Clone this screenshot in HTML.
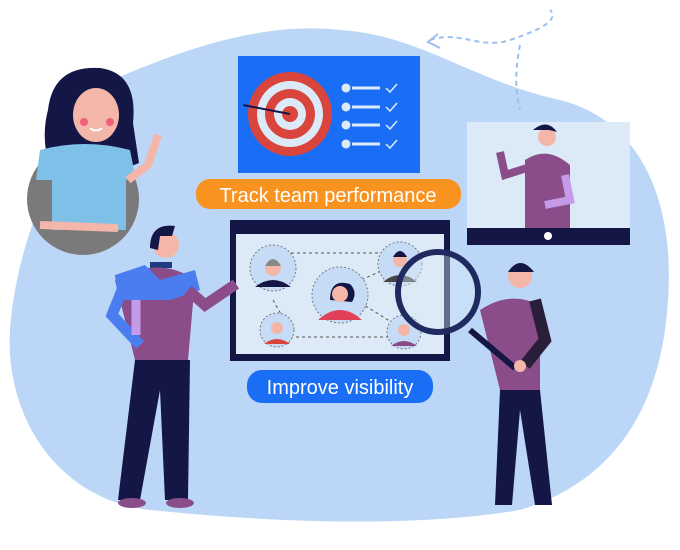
<!DOCTYPE html>
<html><head><style>body{margin:0;background:#fff}svg{display:block}</style></head><body>
<svg width="680" height="550" viewBox="0 0 680 550" xmlns="http://www.w3.org/2000/svg" font-family="Liberation Sans, sans-serif">
<path d="M100,85 C160,60 250,20 340,30 C420,35 470,80 560,100 C640,120 675,200 668,300 C662,400 620,480 520,510 C400,530 250,520 150,510 C60,500 5,420 10,330 C15,260 40,200 60,160 C70,130 80,100 100,85 Z" fill="#bcd6f7"/>
<path d="M430,40 C460,30 480,50 510,40 C540,30 560,20 550,10 M520,45 C515,70 515,90 520,110" stroke="#9cc0ec" stroke-width="2" stroke-dasharray="5,4" fill="none"/>
<path d="M438,34 L428,42 L440,48" stroke="#9cc0ec" stroke-width="2" fill="none"/>
<rect x="238" y="56" width="182" height="117" fill="#1a6ef5"/>
<circle cx="290" cy="114" r="42" fill="#d9453d"/><circle cx="290" cy="114" r="33" fill="#dceaf8"/><circle cx="290" cy="114" r="25" fill="#d9453d"/><circle cx="290" cy="114" r="16" fill="#dceaf8"/><circle cx="290" cy="114" r="8" fill="#d9453d"/>
<line x1="243" y1="105" x2="290" y2="114" stroke="#141646" stroke-width="2"/>
<g fill="#dceaf8" stroke="#dceaf8"><circle cx="346" cy="88" r="4"/><circle cx="346" cy="107" r="4"/><circle cx="346" cy="125" r="4"/><circle cx="346" cy="144" r="4"/>
<g stroke-width="3"><line x1="352" y1="88" x2="380" y2="88"/><line x1="352" y1="107" x2="380" y2="107"/><line x1="352" y1="125" x2="380" y2="125"/><line x1="352" y1="144" x2="380" y2="144"/></g>
<g fill="none" stroke-width="1.5"><path d="M386,88 l4,4 l7,-8"/><path d="M386,107 l4,4 l7,-8"/><path d="M386,125 l4,4 l7,-8"/><path d="M386,144 l4,4 l7,-8"/></g></g>
<rect x="196" y="179" width="265" height="30" rx="14" fill="#f7931e"/>
<text x="328" y="202" font-size="20" fill="#fff" text-anchor="middle">Track team performance</text>
<rect x="230" y="220" width="220" height="141" fill="#141646"/>
<rect x="236" y="234" width="208" height="120" fill="#dceaf8"/>
<g stroke="#555" stroke-dasharray="3,3" fill="none"><path d="M273,253 L400,253 M273,300 L290,330 M290,337 L404,337 M340,290 L400,262 M340,290 L404,330"/></g>
<g stroke="#777" stroke-dasharray="2,2" fill="#c6dcf6"><circle cx="273" cy="268" r="23"/><circle cx="340" cy="295" r="28"/><circle cx="400" cy="264" r="22"/><circle cx="277" cy="330" r="17"/><circle cx="404" cy="332" r="17"/></g>
<path d="M255,287 q18,-14 36,0z" fill="#141646"/><circle cx="273" cy="268" r="8" fill="#f4b6a8"/><path d="M265,266 q8,-14 16,0" fill="#888"/>
<path d="M318,320 q22,-20 44,0z" fill="#e0405a"/><path d="M330,300 q0,-22 20,-16 q8,8 2,18z" fill="#141646"/><circle cx="340" cy="294" r="8" fill="#f4b6a8"/>
<path d="M383,282 q17,-14 34,0z" fill="#444"/><circle cx="400" cy="260" r="7" fill="#f4b6a8"/><path d="M393,257 q7,-12 14,0z" fill="#141646"/>
<path d="M264,344 q13,-10 26,0z" fill="#d9453d"/><circle cx="277" cy="328" r="6" fill="#f4b6a8"/>
<path d="M391,346 q13,-10 26,0z" fill="#8a4d8a"/><circle cx="404" cy="330" r="6" fill="#f4b6a8"/>
<rect x="247" y="370" width="186" height="33" rx="15" fill="#1a6ef5"/>
<text x="340" y="394" font-size="20" fill="#fff" text-anchor="middle">Improve visibility</text>
<rect x="467" y="122" width="163" height="110" fill="#dceaf8"/>
<rect x="467" y="228" width="163" height="17" fill="#141646"/>
<circle cx="548" cy="236" r="4" fill="#fff"/>
<circle cx="547" cy="137" r="9" fill="#f4b6a8"/><path d="M533,130 q14,-12 24,2 l-8,-2z" fill="#141646"/>
<path d="M525,160 q22,-15 45,5 L570,228 L525,228 Z" fill="#8a4d8a"/>
<path d="M527,168 L505,175 L500,152" stroke="#8a4d8a" stroke-width="8" fill="none"/>
<path d="M565,175 L570,200 L545,205" stroke="#c49be8" stroke-width="8" fill="none"/>
<circle cx="83" cy="199" r="56" fill="#7a7a7a"/>
<path d="M48,110 q5,-45 52,-42 q38,5 33,55 l6,40 l-20,8 l-70,-5 q-8,-30 -1,-56z" fill="#141646"/>
<ellipse cx="96" cy="115" rx="23" ry="27" fill="#f4b6a8"/>
<circle cx="84" cy="122" r="4" fill="#f0607a"/><circle cx="110" cy="122" r="4" fill="#f0607a"/>
<path d="M90,128 q6,5 12,0" stroke="#fff" stroke-width="2" fill="none"/>
<path d="M40,150 q45,-12 90,0 l6,30 l-10,0 l0,50 l-74,0 l0,-50 l-16,0z" fill="#7fc0e8"/>
<path d="M40,225 L118,228" stroke="#f4b6a8" stroke-width="8"/>
<path d="M128,180 L148,165 L158,135" stroke="#f4b6a8" stroke-width="8" fill="none"/>
<circle cx="166" cy="245" r="13" fill="#f4b6a8"/><path d="M150,248 q0,-25 25,-22 l-3,10 l-12,0 l-2,14z" fill="#141646"/>
<path d="M150,262 h22 v6 h-22z" fill="#1e3a80"/>
<path d="M115,280 q45,-25 80,0 L188,360 L135,360 Z" fill="#8a4d8a"/>
<path d="M115,275 L145,265 L160,280 L195,270 L200,290 L170,300 L118,300Z" fill="#4a7ef0"/>
<path d="M122,290 L112,315 L140,345" stroke="#4a7ef0" stroke-width="11" fill="none"/>
<path d="M136,300 L136,335" stroke="#c49be8" stroke-width="9"/>
<path d="M188,290 L205,305 L236,284" stroke="#8a4d8a" stroke-width="11" fill="none"/>
<path d="M135,360 L118,500 L140,500 L160,390 L165,500 L188,500 L190,360 Z" fill="#141646"/>
<ellipse cx="132" cy="503" rx="14" ry="5" fill="#8a4d8a"/><ellipse cx="180" cy="503" rx="14" ry="5" fill="#8a4d8a"/>
<circle cx="520" cy="276" r="12" fill="#f4b6a8"/><path d="M508,272 q12,-18 26,0z" fill="#141646"/>
<path d="M480,310 q30,-20 60,-5 L540,390 L500,390 Z" fill="#8a4d8a"/>
<path d="M535,300 L545,340 L525,365" stroke="#2a1f3a" stroke-width="12" fill="none"/>
<path d="M500,390 L495,505 L512,505 L520,410 L535,505 L552,505 L540,390Z" fill="#141646"/>
<line x1="470" y1="330" x2="515" y2="368" stroke="#141646" stroke-width="6"/>
<circle cx="520" cy="366" r="6" fill="#f4b6a8"/>
<circle cx="438" cy="292" r="40" fill="rgba(220,234,248,0.4)" stroke="#1e2a60" stroke-width="6"/>
</svg>
</body></html>
